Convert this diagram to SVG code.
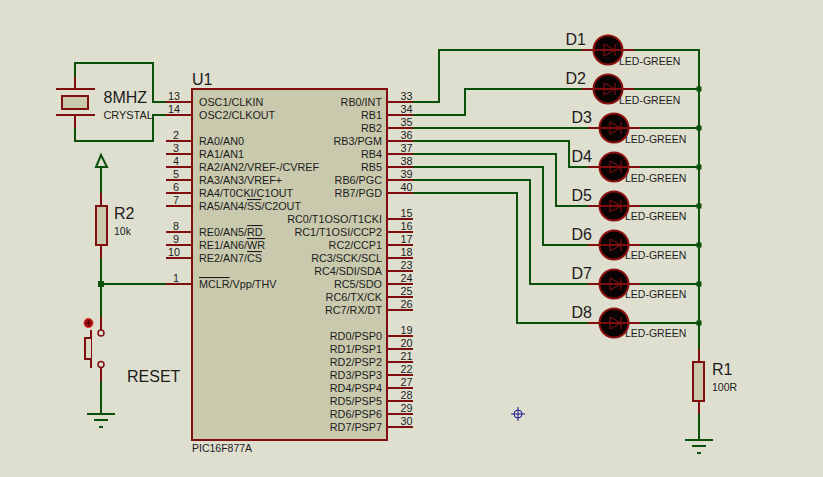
<svg xmlns="http://www.w3.org/2000/svg" width="823" height="477" viewBox="0 0 823 477">
<defs>
<style>
text{font-family:"Liberation Sans",Arial,sans-serif;fill:#1c1c1c}
.w{fill:none;stroke:#0b500b;stroke-width:2}
.r{fill:none;stroke:#7f0f0f;stroke-width:2}
.b{fill:#c9c9ae;stroke:#7f0f0f;stroke-width:2}
.big{font-size:16px}
.sm{font-size:10.500px}
.s9{font-size:10.500px}
.cr{font-size:10.900px}
.pn{font-size:10.800px;text-anchor:middle}
.pl{font-size:10.800px}
.pr{font-size:10.800px;text-anchor:end}
.o{text-decoration:overline}
.j{fill:#0b500b}
</style>
<g id="led">
<circle cx="0" cy="0" r="14.500" fill="#0a0304" stroke="#8a1010" stroke-width="2"/>
<path d="M-26 0H26" class="r"/>
<path d="M-4 -6V6L7 0Z M7 -6V6" fill="none" stroke="#8a1010" stroke-width="1"/>
</g>
<g id="gnd">
<path d="M-14 0H14M-7 6H7M-2 13H2" class="w"/>
</g>
</defs>
<rect width="823" height="477" fill="#dfdfd0"/>
<g id="connectors">
<path class="w" d="M75 77V63H153V102H166"/>
<path class="w" d="M75 128V141H153V115H166"/>
<path class="w" d="M101 167V193M101 258V317M101 284H166M101 381V414"/>
<path class="w" d="M413 102H439V50H582"/>
<path class="w" d="M413 115H465V89H582"/>
<path class="w" d="M413 128H588"/>
<path class="w" d="M413 141H569V167H588"/>
<path class="w" d="M413 154H556V206H588"/>
<path class="w" d="M413 167H543V245H588"/>
<path class="w" d="M413 180H530V284H588"/>
<path class="w" d="M413 193H517V323H588"/>
<path class="w" d="M634 50H699V349M634 89H699M640 128H699M640 167H699M640 206H699M640 245H699M640 284H699M640 323H699M699 414V440"/>
<g class="j">
<rect x="98" y="281" width="6" height="6"/>
<rect x="696.500" y="86.500" width="5" height="5"/>
<rect x="696.500" y="125.500" width="5" height="5"/>
<rect x="696.500" y="164.500" width="5" height="5"/>
<rect x="696.500" y="203.500" width="5" height="5"/>
<rect x="696.500" y="242.500" width="5" height="5"/>
<rect x="696.500" y="281.500" width="5" height="5"/>
<rect x="696.500" y="320.500" width="5" height="5"/>
</g>
</g>
<g id="X1">
<path class="r" d="M75 77V89M75 115V128M56 89H95M56 115H95"/>
<rect class="b" x="62" y="96" width="26" height="13"/>
<text class="big" x="103.500" y="103">8MHZ</text>
<text class="cr" x="103.500" y="119">CRYSTAL</text>
</g>
<g id="VCC">
<path d="M101 155L96 167H107Z" fill="none" stroke="#0b500b" stroke-width="2"/>
</g>
<g id="R2">
<path class="r" d="M101 193V206M101 245V258"/>
<rect class="b" x="96" y="206" width="11" height="39"/>
<text class="big" x="114" y="219">R2</text>
<text class="s9" x="114" y="235">10k</text>
</g>
<g id="RESET">
<path class="r" d="M101 317V330M101 368V381M91 330V368"/>
<circle cx="101" cy="333" r="3" fill="#dfdfd0" stroke="#7f0f0f" stroke-width="1.500"/>
<circle cx="101" cy="364.500" r="3" fill="#dfdfd0" stroke="#7f0f0f" stroke-width="1.500"/>
<path d="M91 338H85V359H91" fill="#d8d8c4" stroke="#7f0f0f" stroke-width="2"/>
<circle cx="88.500" cy="323" r="4.500" fill="#a01010" stroke="#e03030" stroke-width="1"/>
<path d="M86 323H91M88.500 320.500V325.500" stroke="#400" stroke-width="1"/>
<text class="big" x="127" y="382">RESET</text>
</g>
<use id="GND1" href="#gnd" x="101" y="414"/>
<g id="U1">
<rect class="b" x="192" y="89" width="195" height="351"/>
<path class="r" d="M166 102H192M166 115H192M166 141H192M166 154H192M166 167H192M166 180H192M166 193H192M166 206H192M166 232H192M166 245H192M166 258H192M166 284H192"/>
<path class="r" d="M387 102H413M387 115H413M387 128H413M387 141H413M387 154H413M387 167H413M387 180H413M387 193H413M387 219H413M387 232H413M387 245H413M387 258H413M387 271H413M387 284H413M387 297H413M387 310H413M387 336H413M387 349H413M387 362H413M387 375H413M387 388H413M387 401H413M387 414H413M387 427H413"/>
<text class="big" x="192" y="85">U1</text>
<text class="sm" x="192" y="452">PIC16F877A</text>
<g>
<text class="pn" x="174" y="100">13</text><text class="pn" x="174" y="113">14</text>
<text class="pn" x="176" y="139">2</text><text class="pn" x="176" y="152">3</text><text class="pn" x="176" y="165">4</text><text class="pn" x="176" y="178">5</text><text class="pn" x="176" y="191">6</text><text class="pn" x="176" y="204">7</text>
<text class="pn" x="176" y="230">8</text><text class="pn" x="176" y="243">9</text><text class="pn" x="174" y="256">10</text><text class="pn" x="176" y="282">1</text>
<text class="pn" x="406.500" y="100">33</text><text class="pn" x="406.500" y="113">34</text><text class="pn" x="406.500" y="126">35</text><text class="pn" x="406.500" y="139">36</text><text class="pn" x="406.500" y="152">37</text><text class="pn" x="406.500" y="165">38</text><text class="pn" x="406.500" y="178">39</text><text class="pn" x="406.500" y="191">40</text>
<text class="pn" x="406.500" y="217">15</text><text class="pn" x="406.500" y="230">16</text><text class="pn" x="406.500" y="243">17</text><text class="pn" x="406.500" y="256">18</text><text class="pn" x="406.500" y="269">23</text><text class="pn" x="406.500" y="282">24</text><text class="pn" x="406.500" y="295">25</text><text class="pn" x="406.500" y="308">26</text>
<text class="pn" x="406.500" y="334">19</text><text class="pn" x="406.500" y="347">20</text><text class="pn" x="406.500" y="360">21</text><text class="pn" x="406.500" y="373">22</text><text class="pn" x="406.500" y="386">27</text><text class="pn" x="406.500" y="399">28</text><text class="pn" x="406.500" y="412">29</text><text class="pn" x="406.500" y="425">30</text>
</g>
<g>
<text class="pl" x="199" y="106">OSC1/CLKIN</text><text class="pl" x="199" y="119">OSC2/CLKOUT</text>
<text class="pl" x="199" y="145">RA0/AN0</text><text class="pl" x="199" y="158">RA1/AN1</text><text class="pl" x="199" y="171">RA2/AN2/VREF-/CVREF</text><text class="pl" x="199" y="184">RA3/AN3/VREF+</text><text class="pl" x="199" y="197">RA4/T0CKI/C1OUT</text>
<text class="pl" x="199" y="210">RA5/AN4/<tspan class="o">SS</tspan>/C2OUT</text>
<text class="pl" x="199" y="236">RE0/AN5/<tspan class="o">RD</tspan></text><text class="pl" x="199" y="249">RE1/AN6/<tspan class="o">WR</tspan></text><text class="pl" x="199" y="262">RE2/AN7/<tspan class="o">CS</tspan></text>
<text class="pl" x="199" y="288"><tspan class="o">MCLR</tspan>/Vpp/THV</text>
<text class="pr" x="382" y="106">RB0/INT</text><text class="pr" x="382" y="119">RB1</text><text class="pr" x="382" y="132">RB2</text><text class="pr" x="382" y="145">RB3/PGM</text><text class="pr" x="382" y="158">RB4</text><text class="pr" x="382" y="171">RB5</text><text class="pr" x="382" y="184">RB6/PGC</text><text class="pr" x="382" y="197">RB7/PGD</text>
<text class="pr" x="382" y="223">RC0/T1OSO/T1CKI</text><text class="pr" x="382" y="236">RC1/T1OSI/CCP2</text><text class="pr" x="382" y="249">RC2/CCP1</text><text class="pr" x="382" y="262">RC3/SCK/SCL</text><text class="pr" x="382" y="275">RC4/SDI/SDA</text><text class="pr" x="382" y="288">RC5/SDO</text><text class="pr" x="382" y="301">RC6/TX/CK</text><text class="pr" x="382" y="314">RC7/RX/DT</text>
<text class="pr" x="382" y="340">RD0/PSP0</text><text class="pr" x="382" y="353">RD1/PSP1</text><text class="pr" x="382" y="366">RD2/PSP2</text><text class="pr" x="382" y="379">RD3/PSP3</text><text class="pr" x="382" y="392">RD4/PSP4</text><text class="pr" x="382" y="405">RD5/PSP5</text><text class="pr" x="382" y="418">RD6/PSP6</text><text class="pr" x="382" y="431">RD7/PSP7</text>
</g>
</g>
<g id="D1"><text class="sm" x="619" y="65">LED-GREEN</text><use href="#led" x="608" y="50"/><text class="big" x="565.500" y="45">D1</text></g>
<g id="D2"><text class="sm" x="619" y="104">LED-GREEN</text><use href="#led" x="608" y="89"/><text class="big" x="565.500" y="84">D2</text></g>
<g id="D3"><text class="sm" x="625" y="143">LED-GREEN</text><use href="#led" x="614" y="128"/><text class="big" x="571.500" y="123">D3</text></g>
<g id="D4"><text class="sm" x="625" y="182">LED-GREEN</text><use href="#led" x="614" y="167"/><text class="big" x="571.500" y="162">D4</text></g>
<g id="D5"><text class="sm" x="625" y="220">LED-GREEN</text><use href="#led" x="614" y="206"/><text class="big" x="571.500" y="201">D5</text></g>
<g id="D6"><text class="sm" x="625" y="259">LED-GREEN</text><use href="#led" x="614" y="245"/><text class="big" x="571.500" y="240">D6</text></g>
<g id="D7"><text class="sm" x="625" y="298">LED-GREEN</text><use href="#led" x="614" y="284"/><text class="big" x="571.500" y="279">D7</text></g>
<g id="D8"><text class="sm" x="625" y="337">LED-GREEN</text><use href="#led" x="614" y="323"/><text class="big" x="571.500" y="318">D8</text></g>
<g id="R1">
<path class="r" d="M699 349V362M699 401V414"/>
<rect class="b" x="693" y="362" width="11" height="39"/>
<text class="big" x="712" y="375">R1</text>
<text class="s9" x="712" y="391">100R</text>
</g>
<use id="GND2" href="#gnd" x="699" y="440"/>
<g id="origin">
<circle cx="518" cy="414" r="4" fill="none" stroke="#1a1a90" stroke-width="1"/>
<path d="M511 414H525M518 407V421" stroke="#1a1a90" stroke-width="1"/>
</g>
</svg>
